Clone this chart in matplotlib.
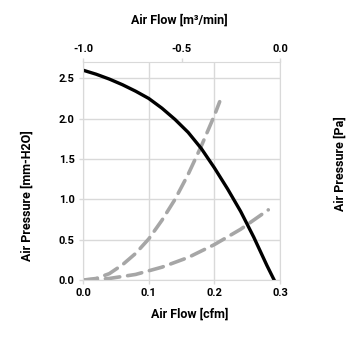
import numpy as np
import matplotlib.pyplot as plt

plt.rcParams['font.family'] = ['Roboto', 'DejaVu Sans']
plt.rcParams['font.weight'] = 'bold'

# fan curve (black)
fan_x = [0.0, 0.02, 0.04, 0.06, 0.08, 0.10, 0.12, 0.14, 0.16, 0.18,
         0.20, 0.22, 0.24, 0.26, 0.28, 0.291]
fan_y = [2.60, 2.55, 2.49, 2.42, 2.34, 2.25, 2.13, 1.99, 1.83, 1.63,
         1.39, 1.13, 0.85, 0.53, 0.18, 0.0]

# system impedance curves (grey dashed)
sys1_x = [0.0, 0.02, 0.04, 0.06, 0.08, 0.10, 0.12, 0.14, 0.16, 0.18, 0.20, 0.208]
sys1_y = [0.0, 0.02, 0.08, 0.19, 0.33, 0.51, 0.74, 1.00, 1.31, 1.66, 2.04, 2.21]
sys2_x = [0.0, 0.04, 0.08, 0.12, 0.16, 0.20, 0.24, 0.282]
sys2_y = [0.0, 0.02, 0.07, 0.16, 0.28, 0.44, 0.63, 0.87]

x_ticks = [0.0, 0.1, 0.2, 0.3]
y_ticks = [0.0, 0.5, 1.0, 1.5, 2.0, 2.5]
top_ticks = [-1.0, -0.5, 0.0]

grid_c = '#d9d9d9'
grey = '#a6a6a6'

fig = plt.figure(figsize=(3.55, 3.55), dpi=100)
ax = fig.add_axes([0.234, 0.211, 0.555, 0.614])

ax.plot(sys1_x, sys1_y, color=grey, lw=2.6, ls=(0, (4, 2.2)), dash_capstyle='round')
ax.plot(sys2_x, sys2_y, color=grey, lw=2.6, ls=(0, (4, 2.2)), dash_capstyle='round')
ax.plot(fan_x, fan_y, color='black', lw=2.4)

ax.set_xlim(0, 0.3)
ax.set_ylim(0, 2.7)
ax.set_xticks(x_ticks)
ax.set_yticks(y_ticks)
ax.set_xticklabels(['%.1f' % v for v in x_ticks], fontweight='bold')
ax.set_yticklabels(['%.1f' % v for v in y_ticks], fontweight='bold')
ax.grid(True, color=grid_c, lw=1.0)
ax.set_axisbelow(True)
for s in ax.spines.values():
    s.set_color(grid_c)
ax.tick_params(colors=grid_c, labelcolor='black', labelsize=8, length=3, width=1, pad=3)

top = ax.twiny()
top.set_xlim(-1.0, 0.0)
top.set_xticks(top_ticks)
top.set_xticklabels(['%.1f' % v for v in top_ticks], fontweight='bold')
top.tick_params(colors=grid_c, labelcolor='black', labelsize=8, length=3, width=1, pad=3)
for s in top.spines.values():
    s.set_visible(False)

# axis titles placed like the original
fig.text(0.504, 0.944, 'Air Flow [m³/min]', fontsize=9, fontweight='bold', ha='center', va='center')
fig.text(0.535, 0.115, 'Air Flow [cfm]', fontsize=9, fontweight='bold', ha='center', va='center')
fig.text(0.076, 0.45, 'Air Pressure [mm-H2O]', fontsize=9, fontweight='bold', rotation=90, ha='center', va='center')
fig.text(0.958, 0.54, 'Air Pressure [Pa]', fontsize=9, fontweight='bold', rotation=90, ha='center', va='center')

fig.savefig('out.png', dpi=100)
